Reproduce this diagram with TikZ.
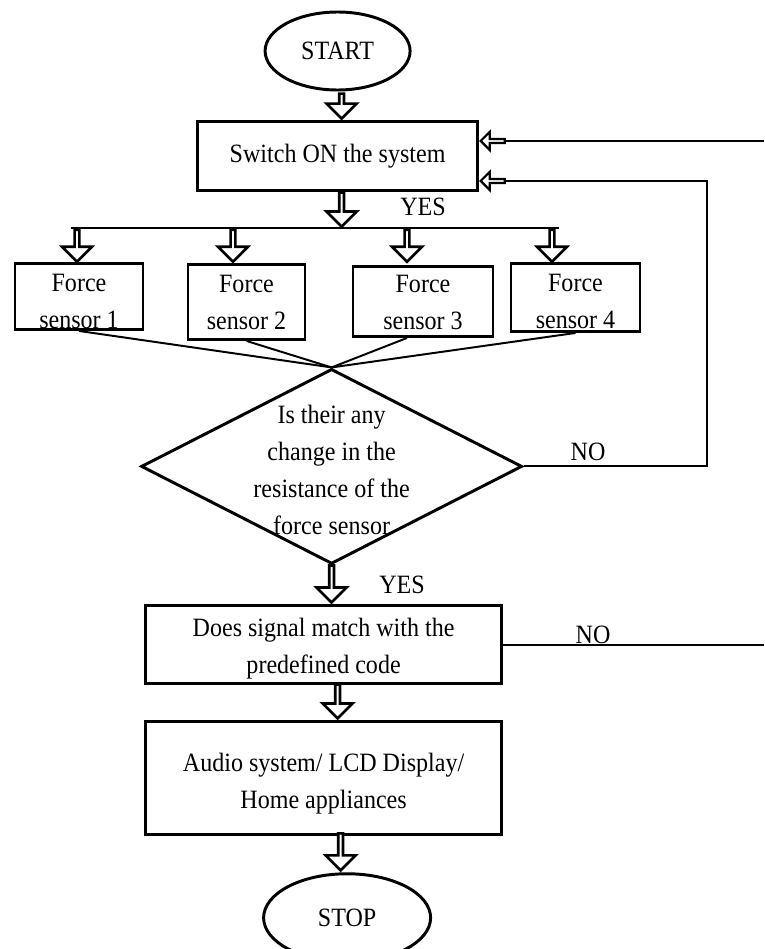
\documentclass[tikz,border=0pt]{standalone}
\usepackage{fontspec}
\setmainfont{Liberation Serif}[FakeStretch=0.91]
\usepackage{tikz}
\usetikzlibrary{shapes.geometric, shapes.arrows, positioning}

\begin{document}
\begin{tikzpicture}[font=\fontsize{18.8}{26.3}\selectfont, boxnode/.style={rectangle, draw=black, line width=2.1pt, fill=white, align=center, inner sep=0pt}, sensorbox/.style={rectangle, draw=black, line width=2.1pt, fill=white, align=center, inner sep=0pt}, termnode/.style={ellipse, draw=black, line width=2.1pt, fill=white, inner sep=0pt}, decnode/.style={diamond, draw=black, line width=2.1pt, fill=white, inner sep=0pt}, emptynode/.style={draw=none, fill=none, inner sep=0pt}, hollowdown/.style={single arrow, draw=black, fill=white, line width=1.9pt, rotate=-90, minimum width=0.75cm, single arrow head extend=0.18cm, inner sep=0pt}, hollowleft/.style={single arrow, draw=black, fill=white, line width=1.6pt, rotate=180, minimum width=0.45cm, minimum height=0.6cm, single arrow head extend=0.1cm, inner sep=0pt}, thinline/.style={draw=black, line width=1.4pt}]

    \useasboundingbox (0,0) rectangle (19.1,-23.725);

    %Nodes
    \node[termnode, minimum width=3.625cm, minimum height=1.95cm](start) at (8.44,-1.275){START};
    \node[boxnode, minimum width=7cm, minimum height=1.725cm](switch)[below=0.725cm of start]{Switch ON the system};
    \coordinate[below=0.9cm of switch](bus);

    \node[sensorbox, minimum width=3.2cm, minimum height=1.65cm, text height=1.6cm, anchor=north](sensor1) at (1.975,-6.55){Force\\sensor 1};
    \node[sensorbox, minimum width=2.925cm, minimum height=1.875cm, text height=1.4cm, anchor=north](sensor2) at (6.1625,-6.575){Force\\sensor 2};
    \node[sensorbox, minimum width=3.5cm, minimum height=1.75cm, text height=1.425cm, anchor=north](sensor3) at (10.575,-6.625){Force\\sensor 3};
    \node[sensorbox, minimum width=3.225cm, minimum height=1.7cm, text height=1.55cm, anchor=north](sensor4) at (14.3875,-6.55){Force\\sensor 4};

    \node[decnode, minimum width=9.525cm, minimum height=4.875cm](check)[below=4.375cm of switch, xshift=-0.15cm]{};
    \node[emptynode, align=center](check_text) at ([yshift=-0.1cm]check.center){Is their any\\change in the\\resistance of the\\force sensor};

    \node[boxnode, minimum width=8.9cm, minimum height=1.95cm, text height=1.575cm](match)[below=0.975cm of check, xshift=-0.2cm]{Does signal match with the\\predefined code};
    \node[boxnode, minimum width=8.9cm, minimum height=2.825cm, text height=1.65cm](output)[below=0.875cm of match]{Audio system/ LCD Display/\\Home appliances};
    \node[termnode, minimum width=4.175cm, minimum height=2.2cm](stop)[below=0.9cm of output, xshift=0.5875cm]{STOP};

    \node[emptynode](yes_bus) at (10.575,-5.175){YES};
    \node[emptynode](no_check) at (14.7,-11.3){NO};
    \node[emptynode](yes_check) at (10.05,-14.625){YES};
    \node[emptynode, anchor=south](no_match) at (14.825,-16.1){NO};

    \coordinate (loop_x) at (17.675,0);
    \coordinate (edge_x) at (19.1,0);

    %Arrows
    \node[hollowdown, minimum height=0.625cm, anchor=tip](arr_start) at ([xshift=0.1cm]switch.north){};
    \node[hollowdown, minimum height=0.85cm, anchor=tip](arr_switch) at ([xshift=0.1cm]bus){};
    \node[hollowdown, minimum height=0.8cm, anchor=tail](arr_s1) at ([xshift=-6.515cm]bus){};
    \node[hollowdown, minimum height=0.8cm, anchor=tail](arr_s2) at ([xshift=-2.615cm]bus){};
    \node[hollowdown, minimum height=0.8cm, anchor=tail](arr_s3) at ([xshift=1.735cm]bus){};
    \node[hollowdown, minimum height=0.8cm, anchor=tail](arr_s4) at ([xshift=5.36cm]bus){};
    \node[hollowdown, minimum height=0.925cm, anchor=tip](arr_check) at ([xshift=0.2cm]match.north){};
    \node[hollowdown, minimum height=0.85cm, anchor=tip](arr_match) at ([xshift=0.35cm]output.north){};
    \node[hollowdown, minimum height=0.925cm, anchor=tip](arr_output) at ([xshift=-0.1625cm]stop.north){};
    \node[hollowleft, anchor=tip](arr_back1) at ([yshift=0.3875cm]switch.east){};
    \node[hollowleft, anchor=tip](arr_back2) at ([yshift=-0.6125cm]switch.east){};

    %Lines
    \draw[thinline] ([xshift=-0.1625cm]arr_s1.tail) -- ([xshift=0.1625cm]arr_s4.tail);
    \draw[thinline] (sensor1.south) -- (check.north);
    \draw[thinline] (sensor2.south) -- (check.north);
    \draw[thinline] ([xshift=-0.4cm]sensor3.south) -- (check.north);
    \draw[thinline] (sensor4.south) -- (check.north);
    \draw[thinline] (check.east) -- (check.east -| loop_x) |- (arr_back2.tail);
    \draw[thinline] (arr_back1.tail) -- (arr_back1.tail -| edge_x);
    \draw[thinline] (match.east) -- (match.east -| edge_x);

\end{tikzpicture}
\end{document}
